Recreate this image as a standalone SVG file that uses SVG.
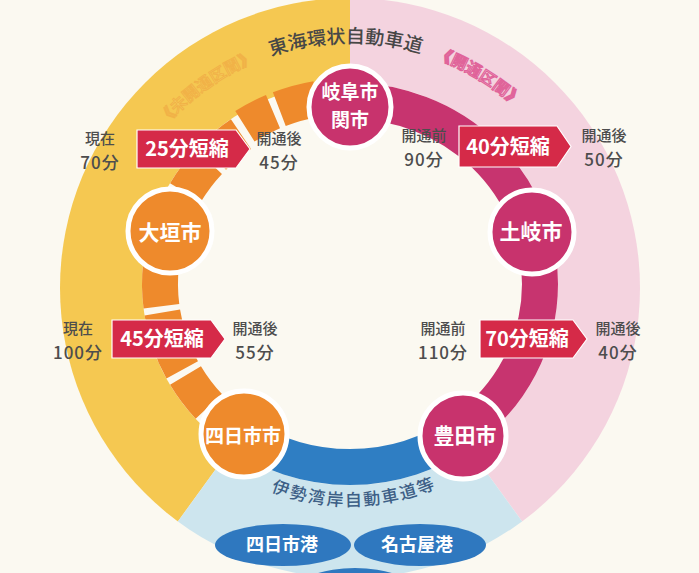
<svg xmlns="http://www.w3.org/2000/svg" width="699" height="573" viewBox="0 0 699 573">
<defs>
<clipPath id="disk"><circle cx="350" cy="288" r="290"/></clipPath>
<path id="topArc" d="M117.9 205.5 A247 247 0 0 1 582.1 205.5"/>
<path id="botArc" d="M162.9 398 A216 216 0 0 0 537.1 398"/>
<style>
.lbl{font-family:"Noto Sans CJK JP","Noto Sans",sans-serif;fill:#4d4d4d;text-anchor:middle;font-weight:500}
.l1{font-size:15px}
.l2{font-size:17px;letter-spacing:1px}
.badge{fill:#d52a48;stroke:#fff;stroke-width:1.2}
.btxt{font-family:"Noto Sans CJK JP","Noto Sans",sans-serif;font-weight:700;font-size:20px;fill:#fff;text-anchor:middle}
.node circle{stroke:#fff;stroke-width:5}
.ntxt{font-family:"Noto Sans CJK JP","Noto Sans",sans-serif;font-weight:700;font-size:21px;fill:#fff;text-anchor:middle}
.road{fill:none;stroke-width:36}
.orange{stroke:#ee8a2c}
.port{fill:#2f78bf}
.ptxt{font-family:"Noto Sans CJK JP","Noto Sans",sans-serif;font-weight:700;font-size:18px;fill:#fff;text-anchor:middle}
.arcT{font-family:"Noto Sans CJK JP","Noto Sans",sans-serif;font-weight:500}
</style>
</defs>
<rect width="699" height="573" fill="#fbf9f1"/>
<g id="background-bands" clip-path="url(#disk)">
<polygon points="350,284 -3,771 -250,284 -250,-314 350,-314" fill="#f5c851"/>
<polygon points="350,284 350,-314 950,-314 950,771 703,771" fill="#f4d3df"/>
<polygon points="350,284 703,771 -3,771" fill="#cde5ee"/>
</g>
<ellipse cx="350" cy="284" rx="208" ry="201" fill="#fbf9f1"/>
<text class="arcT" font-size="19" fill="#474747"><textPath href="#topArc" startOffset="49.3%" text-anchor="middle">東海環状自動車道</textPath></text>
<text class="arcT" font-size="16" fill="#fbe6ee" stroke="#e0649a" stroke-width="1.2"><textPath href="#topArc" startOffset="72.3%" text-anchor="middle">《開通区間》</textPath></text>
<text class="arcT" font-size="16" fill="#f6cd5e" stroke="#f1b247" stroke-width="1"><textPath href="#topArc" startOffset="24.8%" text-anchor="middle">《未開通区間》</textPath></text>
<text class="arcT" font-size="17" fill="#3d5f86" letter-spacing="2"><textPath href="#botArc" startOffset="51%" text-anchor="middle">伊勢湾岸自動車道等</textPath></text>
<g id="connectors">
<path class="road" stroke="#c7346f" d="M350 101 A190 183 0 0 1 540 284 A190 183 0 0 1 463 431.1"/>
<path class="road" stroke="#2f7ec3" d="M463 431.1 A190 183 0 0 1 237 431.1"/>
<path class="road orange" d="M208.8 406.4 A190 183 0 0 1 185.5 375.5"/>
<path class="road orange" d="M182.2 369.9 A190 183 0 0 1 169.3 340.5"/>
<path class="road orange" d="M167.4 334.4 A190 183 0 0 1 162.3 312.6"/>
<path class="road orange" d="M161.4 306.3 A190 183 0 0 1 161.0 264.9"/>
<path class="road orange" d="M185.5 192.5 A190 183 0 0 1 208.8 161.6"/>
<path class="road orange" d="M213.3 156.9 A190 183 0 0 1 241.0 134.1"/>
<path class="road orange" d="M244.9 126.3 A193 188 0 0 1 273.0 111.6"/>
<path class="road orange" d="M279.3 109.1 A193 188 0 0 1 316.5 98.9"/>
</g>
<g id="node-gifu" class="node">
<circle cx="350" cy="107" r="41" fill="#c8336d"/>
<text class="ntxt" x="350" y="99" style="font-size:19px">岐阜市<tspan x="350" y="126.5">関市</tspan></text>
</g>
<g id="node-toki" class="node">
<circle cx="532" cy="232" r="42" fill="#c8336d"/>
<text class="ntxt" x="531" y="239">土岐市</text>
</g>
<g id="node-toyota" class="node">
<circle cx="463" cy="436" r="43" fill="#c8336d"/>
<text class="ntxt" x="465" y="443">豊田市</text>
</g>
<g id="node-yokkaichi" class="node">
<circle cx="244" cy="434" r="43" fill="#ee8a2c"/>
<text class="ntxt" x="243" y="443" style="font-size:19px">四日市市</text>
</g>
<g id="node-ogaki" class="node">
<circle cx="170" cy="231" r="42" fill="#ee8a2c"/>
<text class="ntxt" x="170" y="240">大垣市</text>
</g>
<g id="label-ogaki-gifu">
<text class="lbl l1" x="100" y="144">現在<tspan class="l2" x="100" y="168.5">70分</tspan></text>
<path class="badge" d="M137 130 H236 L250 149 L236 168 H137 Z"/>
<text class="btxt" x="187" y="156">25分短縮</text>
<text class="lbl l1" x="279" y="144">開通後<tspan class="l2" x="279" y="168.5">45分</tspan></text>
</g>
<g id="label-gifu-toki">
<text class="lbl l1" x="424" y="141">開通前<tspan class="l2" x="424" y="165.5">90分</tspan></text>
<path class="badge" d="M459 126 H557 L571 146.5 L557 167 H459 Z"/>
<text class="btxt" x="508" y="153.5">40分短縮</text>
<text class="lbl l1" x="604" y="141">開通後<tspan class="l2" x="604" y="165.5">50分</tspan></text>
</g>
<g id="label-ogaki-yokkaichi">
<text class="lbl l1" x="78" y="334">現在<tspan class="l2" x="78" y="358.5">100分</tspan></text>
<path class="badge" d="M112 320 H211 L225 339 L211 358 H112 Z"/>
<text class="btxt" x="162" y="346">45分短縮</text>
<text class="lbl l1" x="255" y="334">開通後<tspan class="l2" x="255" y="358.5">55分</tspan></text>
</g>
<g id="label-toki-toyota">
<text class="lbl l1" x="443" y="334">開通前<tspan class="l2" x="443" y="358.5">110分</tspan></text>
<path class="badge" d="M480 320 H573 L587 339 L573 358 H480 Z"/>
<text class="btxt" x="527" y="346">70分短縮</text>
<text class="lbl l1" x="618" y="334">開通後<tspan class="l2" x="618" y="358.5">40分</tspan></text>
</g>
<g id="node-port-third">
<ellipse class="port" cx="355" cy="590" rx="58" ry="22"/>
</g>
<g id="node-yokkaichi-port">
<ellipse class="port" cx="283" cy="545" rx="68" ry="21"/>
<text class="ptxt" x="282" y="551">四日市港</text>
</g>
<g id="node-nagoya-port">
<ellipse class="port" cx="420" cy="545" rx="66" ry="21"/>
<text class="ptxt" x="417" y="551">名古屋港</text>
</g>
</svg>
